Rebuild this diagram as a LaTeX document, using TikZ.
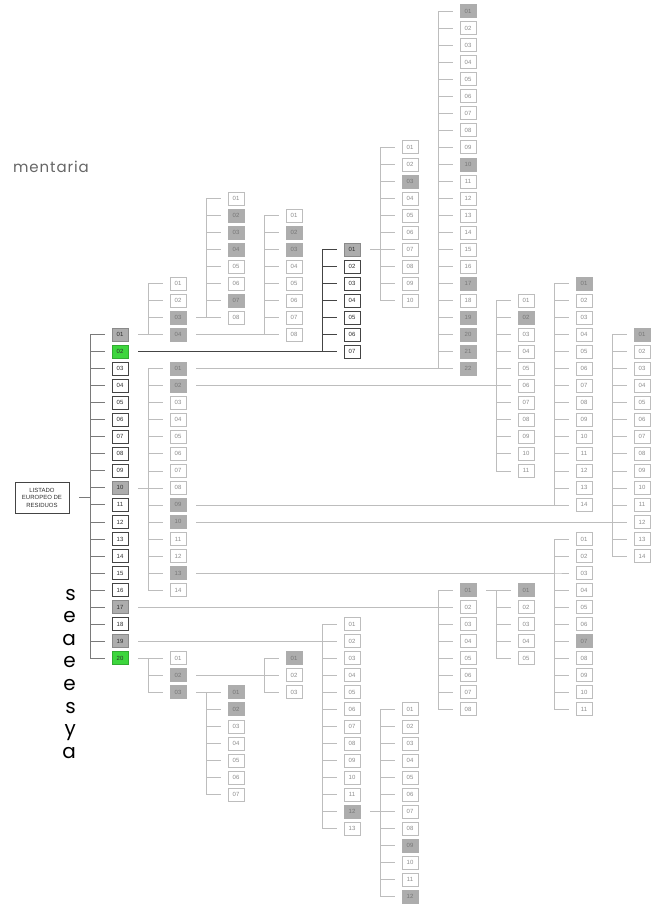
\documentclass[tikz,border=0pt]{standalone}
\usepackage{fontspec}
\setmainfont{Liberation Sans}
\newfontfamily\parafont{Poppins}
\newfontfamily\leadfont[LetterSpace=6]{Poppins}
\usepackage{tikz}

\definecolor{lineLight}{HTML}{BDBDBD}
\definecolor{lineMain}{HTML}{7A7A7A}
\definecolor{lineDark}{HTML}{444444}
\definecolor{boxGray}{HTML}{ADADAD}
\definecolor{boxGreen}{HTML}{3DD63D}
\definecolor{txtLight}{HTML}{8C8C8C}
\definecolor{txtDark}{HTML}{2E2E2E}
\definecolor{paraGray}{HTML}{666666}

\tikzset{
    code/.style={rectangle, minimum width=16pt, minimum height=13pt, inner sep=0pt,
        font=\fontsize{6}{7}\selectfont, line width=0.5pt},
    cw/.style={code, draw=lineLight, fill=white, text=txtLight},
    cg/.style={code, draw=boxGray, fill=boxGray, text=txtLight!85!black},
    mw/.style={code, draw=lineDark, fill=white, text=txtDark, line width=0.7pt},
    mg/.style={code, draw=boxGray!80!black, fill=boxGray, text=txtDark, line width=0.7pt},
    mn/.style={code, draw=boxGreen!80!black, fill=boxGreen, text=txtDark, line width=0.7pt},
    link/.style={draw=lineLight, line width=0.6pt},
    mainlink/.style={draw=lineMain, line width=0.8pt},
    darklink/.style={draw=lineDark, line width=0.8pt},
    tail/.style={anchor=base east, font=\parafont\fontsize{20}{22}\selectfont, inner sep=0pt}
}

% one column of codes: name, x, first row, style, fills
\newcommand\codecol[5]{%
    \foreach \s [count=\k] in {#5}
        \node[#4\s] (#1\k) at (#2, {11+17.03*(#3+\k-1)}) {\ifnum\k<10 0\fi\k};
}
% parent to every code of a column: style, parent, name, count
\newcommand\branch[4]{%
    \foreach \k in {1,...,#4}
        \draw[#1] ([xshift=10pt]#2.east) -| ([xshift=-21pt]#3\k.west) -- ([xshift=-7pt]#3\k.west);
}

\begin{document}
\begin{tikzpicture}[x=1pt, y=-1pt]
    \useasboundingbox (0,0) rectangle (657,906);

    % Cut text on the left
    \node[anchor=base east, font=\leadfont\fontsize{15}{17}\selectfont, text=paraGray, inner sep=0pt]
        (lead) at (89,172) {mentaria};
    \foreach \c [count=\k] in {s,e,a,e,e,s,y,a}
        \node[tail] (tail\k) at (76, {600+22.6*(\k-1)}) {\c};

    % Root and chapters
    \node[draw=lineDark, line width=0.6pt, minimum width=54pt, minimum height=31pt, inner sep=1pt,
        align=center, text=txtDark, font=\fontsize{6}{7.5}\selectfont]
        (lis) at (42,497.5) {LISTADO\\EUROPEO DE\\RESIDUOS};
    \codecol{m}{120}{19}{m}{g,n,w,w,w,w,w,w,w,g,w,w,w,w,w,w,g,w,g,n}
    \branch{mainlink}{lis}{m}{20}

    % Chapter 01
    \codecol{a}{178}{16}{c}{w,w,g,g}
    \codecol{aa}{236}{11}{c}{w,g,g,g,w,w,g,w}
    \codecol{ab}{294}{12}{c}{w,g,g,w,w,w,w,w}
    \branch{link}{m1}{a}{4}
    \branch{link}{a3}{aa}{8}
    \branch{link}{a4}{ab}{8}

    % Chapter 02
    \codecol{b}{352}{14}{m}{g,w,w,w,w,w,w}
    \codecol{ba}{410}{8}{c}{w,w,g,w,w,w,w,w,w,w}
    \branch{darklink}{m2}{b}{7}
    \branch{link}{b1}{ba}{10}

    % Chapter 10
    \codecol{j}{178}{21}{c}{g,g,w,w,w,w,w,w,g,g,w,w,g,w}
    \codecol{ja}{468}{0}{c}{g,w,w,w,w,w,w,w,w,g,w,w,w,w,w,w,g,w,g,g,g,g}
    \codecol{jb}{526}{17}{c}{w,g,w,w,w,w,w,w,w,w,w}
    \codecol{jc}{584}{16}{c}{g,w,w,w,w,w,w,w,w,w,w,w,w,w}
    \codecol{jd}{642}{19}{c}{g,w,w,w,w,w,w,w,w,w,w,w,w,w}
    \codecol{je}{584}{31}{c}{w,w,w,w,w,w,g,w,w,w,w}
    \branch{link}{m10}{j}{14}
    \branch{link}{j1}{ja}{22}
    \branch{link}{j2}{jb}{11}
    \branch{link}{j9}{jc}{14}
    \branch{link}{j10}{jd}{14}
    \branch{link}{j13}{je}{11}

    % Chapter 17
    \codecol{q}{468}{34}{c}{g,w,w,w,w,w,w,w}
    \codecol{qa}{526}{34}{c}{g,w,w,w,w}
    \branch{link}{m17}{q}{8}
    \branch{link}{q1}{qa}{5}

    % Chapter 19
    \codecol{s}{352}{36}{c}{w,w,w,w,w,w,w,w,w,w,w,g,w}
    \codecol{sa}{410}{41}{c}{w,w,w,w,w,w,w,w,g,w,w,g}
    \branch{link}{m19}{s}{13}
    \branch{link}{s12}{sa}{12}

    % Chapter 20
    \codecol{t}{178}{38}{c}{w,g,g}
    \codecol{ta}{294}{38}{c}{g,w,w}
    \codecol{tb}{236}{40}{c}{g,g,w,w,w,w,w}
    \branch{link}{m20}{t}{3}
    \branch{link}{t2}{ta}{3}
    \branch{link}{t3}{tb}{7}
\end{tikzpicture}
\end{document}
